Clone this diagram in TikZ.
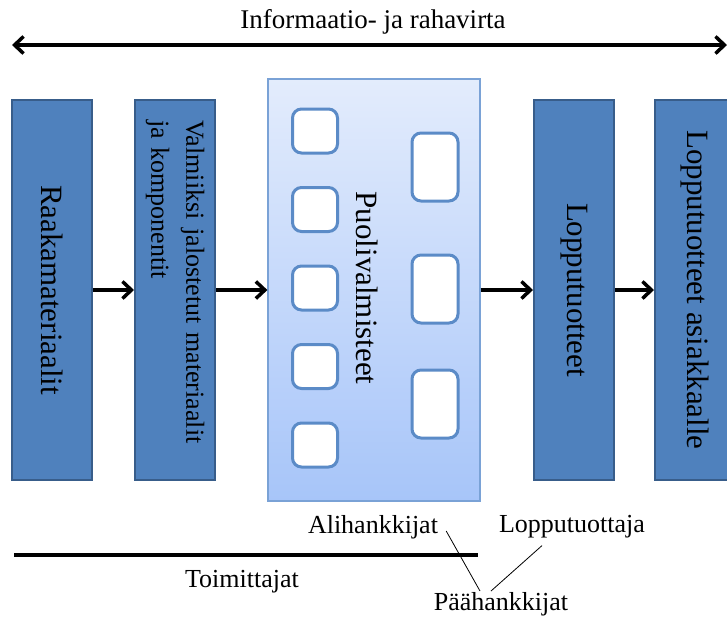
\documentclass[tikz,border=0pt]{standalone}
\usepackage{fontspec}
\setmainfont{Liberation Serif}
\usetikzlibrary{arrows.meta}

\definecolor{boxblue}{HTML}{4F81BD}
\definecolor{boxedge}{HTML}{385D8A}
\definecolor{midtop}{HTML}{E3ECFC}
\definecolor{midbot}{HTML}{A7C5F9}
\definecolor{midedge}{HTML}{7AA2D6}
\definecolor{celledge}{HTML}{5B8BC7}

\begin{document}
\begin{tikzpicture}[x=1pt, y=-1pt,
    stage/.style={rectangle, draw=boxedge, fill=boxblue, line width=2pt, rotate=-90,
        minimum width=380pt, minimum height=80pt, inner sep=0pt, font=\fontsize{31}{36}\selectfont},
    midbox/.style={rectangle, draw=midedge, line width=1.2pt, top color=midtop, bottom color=midbot,
        minimum width=212pt, minimum height=422pt, inner sep=0pt},
    cell/.style={rectangle, rounded corners=9pt, draw=celledge, fill=white, line width=3pt, inner sep=0pt},
    flow/.style={-{Straight Barb[length=9pt,width=17pt]}, line width=3.5pt},
    note/.style={font=\fontsize{26}{30}\selectfont, inner sep=0pt}]
    \useasboundingbox (0,0) rectangle (727,619);

    % Top arrow
    \node[note, font=\fontsize{27}{30}\selectfont] (info) at (373,22) {Informaatio- ja rahavirta};
    \coordinate (infol) at (12,45);
    \coordinate (infor) at (727,45);
    \draw[{Straight Barb[length=9pt,width=17pt]}-{Straight Barb[length=9pt,width=17pt]}, line width=3.5pt] (infol) -- (infor);

    % Stages
    \node[stage] (raaka) at (52,290) {Raakamateriaalit};
    \node[stage, text width=340pt, align=left, font=\fontsize{26}{35}\selectfont] (valm) at (175,290)
        {Valmiiksi jalostetut materiaalit\\ ja komponentit};
    \node[midbox] (puoli) at (374,290) {};
    \node[rotate=-90, font=\fontsize{31}{36}\selectfont] (puolit) at (367,288) {Puolivalmisteet};
    \node[stage] (loppu) at (574,290) {Lopputuotteet};
    \node[stage] (asiak) at (695,290) {Lopputuotteet asiakkaalle};

    % Parts inside
    \foreach \y [count=\i] in {131,209.5,288,366.5,445}
        \node[cell, minimum width=45pt, minimum height=44pt] (l\i) at (315,\y) {};
    \foreach \y [count=\i] in {167,289,404}
        \node[cell, minimum width=46pt, minimum height=68pt] (r\i) at (435,\y) {};

    % Flow
    \draw[flow] (raaka) -- (valm);
    \draw[flow] (valm) -- (puoli);
    \draw[flow] (puoli) -- (loppu);
    \draw[flow] (loppu) -- (asiak);

    % Bottom labels
    \node[note] (ali) at (373,527) {Alihankkijat};
    \node[note] (lopp) at (572,527) {Lopputuottaja};
    \node[note] (toim) at (242,582) {Toimittajat};
    \node[note] (paa) at (501,604) {Päähankkijat};
    \coordinate (toiml) at (14,555);
    \coordinate (toimr) at (478,555);
    \draw[line width=4pt] (toiml) -- (toimr);
    \draw[line width=0.8pt] ([xshift=8pt,yshift=8pt]ali.south east) -- ([xshift=-21pt,yshift=1pt]paa.north);
    \draw[line width=0.8pt] ([xshift=-30pt,yshift=-7pt]lopp.south) -- ([xshift=-10pt,yshift=1pt]paa.north);
\end{tikzpicture}
\end{document}
